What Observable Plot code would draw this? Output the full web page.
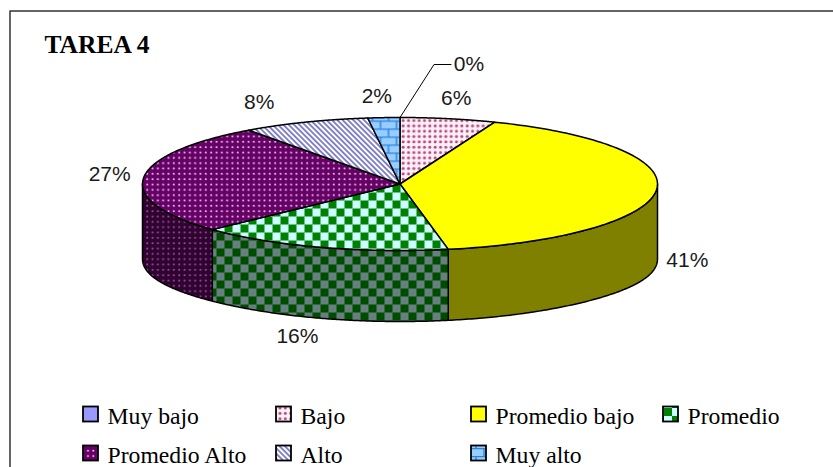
<!DOCTYPE html>
<html lang="es">
<head>
<meta charset="utf-8">
<title>TAREA 4</title>
<script src="https://cdn.jsdelivr.net/npm/d3@7"></script>
<script src="https://cdn.jsdelivr.net/npm/@observablehq/plot@0.6"></script>
<style>
  html, body { margin: 0; padding: 0; background: #fff; }
  svg { display: block; }
</style>
</head>
<body>
<div id="chart"></div>
<script>
// Shares of each level for task 4, in percent, clockwise from twelve o'clock.
const categories = ["Muy bajo", "Bajo", "Promedio bajo", "Promedio", "Promedio Alto", "Alto", "Muy alto"];
const percents = [0, 6, 41, 16, 27, 8, 2];
const chartTitle = "TAREA 4";

// Face paints for the top of each slice, and the darker paints for its wall.
const topPaints = ["#9999ff", "url(#bajo)", "#ffff00", "url(#promedio)", "url(#promedioAlto)", "url(#alto)", "url(#muyAlto)"];
const wallPaints = ["#4d4d80", "#80667f", "#808000", "url(#promedioWall)", "url(#promedioAltoWall)", "#606080", "#4d6680"];

// Pie geometry in pixels: an ellipse standing in for a tilted disc.
const pie = {cx: 399.5, cy: 183.5, rx: 257.5, ry: 66.5, depth: 71, sideSag: 4};
const steps = 120;

// Offsets of each percentage label from the rim point of its slice.
const labelNudges = [[69, -53], [8, -20], [31, -1], [-23, 18], [-34, -3], [-46, -20], [-7, -21]];

// Legend slots: column of swatches, and the two rows.
const legendColumns = [83, 276, 471, 663];
const legendRows = [414, 453];
const legendSlots = [[0, 0], [1, 0], [2, 0], [3, 0], [0, 1], [1, 1], [2, 1]];

const rimPoint = (turn, drop = 0) => {
  const a = turn * 2 * Math.PI;
  return {x: pie.cx + pie.rx * Math.sin(a), y: pie.cy - pie.ry * Math.cos(a) + drop};
};
const arc = (from, to, drop = 0) =>
  d3.range(steps + 1).map((i) => rimPoint(from + ((to - from) * i) / steps, drop));

// The lower rim of the wall squares off a little towards the sides.
const lowerArc = (from, to) =>
  arc(from, to, pie.depth).map((p) => {
    const side = (p.x - pie.cx) / pie.rx;
    return {x: p.x, y: p.y + pie.sideSag * side ** 6};
  });

// Cumulative turn at which each slice starts and ends.
let running = 0;
const slices = percents.map((p, i) => {
  const start = running / 100;
  running += p;
  const end = running / 100;
  return {name: categories[i], percent: p, start, end, mid: (start + end) / 2, i};
});

// Pattern tiles for the hatched fills, written as SVG definitions.
const dotTile = (id, bg, fg, r) => `
  <pattern id="${id}" patternUnits="userSpaceOnUse" width="10.667" height="10.667">
    <rect width="10.667" height="10.667" fill="${bg}"/>
    <g fill="${fg}">
      <circle cx="2.67" cy="2.67" r="${r}"/><circle cx="8" cy="8" r="${r}"/>
      <circle cx="8" cy="2.67" r="${r}"/><circle cx="2.67" cy="8" r="${r}"/>
    </g>
  </pattern>`;
const checkTile = (id, a, b) => `
  <pattern id="${id}" patternUnits="userSpaceOnUse" width="16" height="16">
    <rect width="16" height="16" fill="${a}"/>
    <rect width="8" height="8" fill="${b}"/><rect x="8" y="8" width="8" height="8" fill="${b}"/>
  </pattern>`;
const defsMarkup = `
  ${dotTile("bajo", "#fdf0f6", "#b04a80", 1.5)}
  ${dotTile("promedioAlto", "#660066", "#e6cce6", 1.05)}
  ${dotTile("promedioAltoWall", "#330033", "#806680", 1.05)}
  ${checkTile("promedio", "#ccffff", "#008000")}
  ${checkTile("promedioWall", "#668080", "#004d00")}
  <pattern id="alto" patternUnits="userSpaceOnUse" width="3.77" height="3.77" patternTransform="rotate(45)">
    <rect width="3.77" height="3.77" fill="#ffffff"/>
    <rect y="0" width="3.77" height="1.9" fill="#7f7fc4"/>
  </pattern>
  <pattern id="muyAlto" patternUnits="userSpaceOnUse" width="16" height="16">
    <rect width="16" height="16" fill="#99ccff"/>
    <path d="M0 0.6H16M0 8.6H16M4 0V8M12 8V16" stroke="#2685e0" stroke-width="1.4" fill="none"/>
  </pattern>`;
const patternDefs = () => {
  const defs = document.createElementNS("http://www.w3.org/2000/svg", "defs");
  defs.innerHTML = defsMarkup;
  return defs;
};

// The visible wall runs along the front half of the rim.
const wallMarks = slices
  .filter((s) => s.end > 0.25 && s.start < 0.75)
  .map((s) => {
    const from = Math.max(s.start, 0.25);
    const to = Math.min(s.end, 0.75);
    const outline = [...arc(from, to), ...lowerArc(to, from)];
    outline.push(outline[0]);
    return Plot.line(outline, {x: "x", y: "y", fill: wallPaints[s.i], stroke: "#000", strokeWidth: 1.5});
  });

const topMarks = slices.map((s) => {
  const centre = {x: pie.cx, y: pie.cy};
  const outline = [centre, ...arc(s.start, s.end), centre];
  return Plot.line(outline, {x: "x", y: "y", fill: topPaints[s.i], stroke: "#000", strokeWidth: 1.5});
});

// Percentage labels sit just outside the rim; front slices hang below the wall.
const labelMarks = slices.map((s) => {
  const onFront = s.mid > 0.25 && s.mid < 0.75;
  const anchor = rimPoint(s.mid, onFront ? pie.depth : 0);
  const [dx, dy] = labelNudges[s.i];
  return Plot.text([anchor], {
    x: "x", y: "y", dx, dy,
    text: () => `${s.percent}%`,
    fontFamily: "Liberation Sans, Arial, sans-serif",
    fontSize: 21,
    fill: "#1a1a1a"
  });
});

// Leader line from the empty slice to its label.
const leaderStart = rimPoint(slices[0].mid);
const [leadDx, leadDy] = labelNudges[0];
const leader = [
  leaderStart,
  {x: leaderStart.x + leadDx - 35, y: leaderStart.y + leadDy},
  {x: leaderStart.x + leadDx - 18, y: leaderStart.y + leadDy}
];

const legendData = categories.map((name, i) => {
  const [c, r] = legendSlots[i];
  return {name, paint: topPaints[i], x: legendColumns[c], y: legendRows[r]};
});
const swatchMarks = legendData.map((d) =>
  Plot.rect([d], {
    x1: (v) => v.x, x2: (v) => v.x + 15,
    y1: (v) => v.y - 7.5, y2: (v) => v.y + 7.5,
    fill: d.paint, stroke: "#000", strokeWidth: 1.8, inset: 0
  })
);

const frame = [{x: 9.5, y: 470}, {x: 9.5, y: 10.5}, {x: 840, y: 10.5}];

const chart = Plot.plot({
  width: 833,
  height: 467,
  margin: 0,
  x: {domain: [0, 833], range: [0, 833], axis: null},
  y: {domain: [0, 467], range: [0, 467], axis: null},
  marks: [
    patternDefs,
    Plot.line(frame, {x: "x", y: "y", stroke: "#333", strokeWidth: 1.5, clip: true}),
    ...wallMarks,
    ...topMarks,
    Plot.line(leader, {x: "x", y: "y", stroke: "#000", strokeWidth: 1}),
    ...labelMarks,
    Plot.text([{x: 44, y: 44.5}], {
      x: "x", y: "y", text: () => chartTitle, textAnchor: "start",
      fontFamily: "Liberation Serif, Times New Roman, serif",
      fontWeight: "bold", fontSize: 25.5, fill: "#000"
    }),
    ...swatchMarks,
    Plot.text(legendData, {
      x: "x", y: "y", dx: 24, dy: 2, text: "name", textAnchor: "start",
      fontFamily: "Liberation Serif, Times New Roman, serif",
      fontSize: 23.7, fill: "#000"
    })
  ]
});
document.getElementById("chart").append(chart);
</script>
</body>
</html>
